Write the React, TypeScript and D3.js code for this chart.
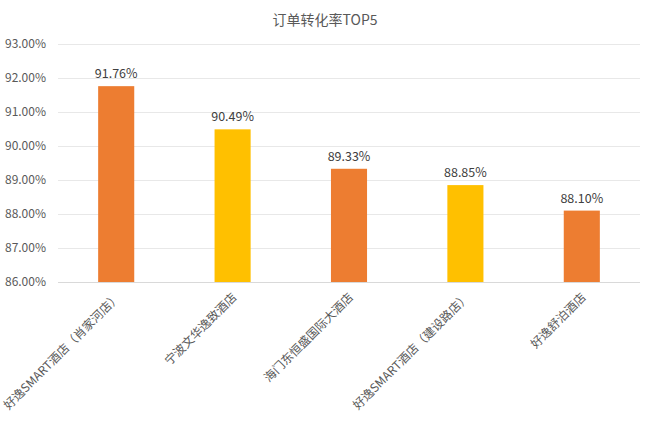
import { useEffect, useRef } from 'react';
import * as d3 from 'd3';

const categories = [
  '好逸SMART酒店（肖家河店）',
  '宁波文华逸致酒店',
  '海门东恒盛国际大酒店',
  '好逸SMART酒店（建设路店）',
  '好逸舒泊酒店',
];
const rates = [91.76, 90.49, 89.33, 88.85, 88.1];
const barColors = ['#ED7D31', '#FFC000', '#ED7D31', '#FFC000', '#ED7D31'];
const yTicks = [86, 87, 88, 89, 90, 91, 92, 93];
const title = '订单转化率TOP5';

const W = 650;
const H = 421;
const FONT = '"Noto Sans CJK SC", "Microsoft YaHei", sans-serif';

export default function App() {
  const ref = useRef<SVGSVGElement | null>(null);

  useEffect(() => {
    if (!ref.current) return;
    const margin = { top: 44, right: 10, bottom: 139, left: 58 };

    const svg = d3.select(ref.current);
    svg.selectAll('*').remove();

    const x = d3
      .scaleBand()
      .domain(categories)
      .range([margin.left, W - margin.right])
      .paddingInner(0.69)
      .paddingOuter(0.345);

    const y = d3.scaleLinear().domain([86, 93]).range([H - margin.bottom, margin.top]);

    svg
      .append('text')
      .attr('x', W / 2)
      .attr('y', 25)
      .attr('text-anchor', 'middle')
      .attr('font-size', 14)
      .attr('fill', '#595959')
      .attr('font-family', FONT)
      .text(title);

    // grid
    svg
      .append('g')
      .selectAll('line')
      .data(yTicks)
      .join('line')
      .attr('x1', margin.left)
      .attr('x2', W - margin.right)
      .attr('y1', (d) => Math.round(y(d)) + 0.5)
      .attr('y2', (d) => Math.round(y(d)) + 0.5)
      .attr('stroke', (d) => (d === 86 ? '#d9d9d9' : '#e8e8e8'))
      .attr('stroke-width', 1);

    svg
      .append('g')
      .selectAll('text')
      .data(yTicks)
      .join('text')
      .attr('x', 46)
      .attr('y', (d) => y(d))
      .attr('dy', '0.35em')
      .attr('text-anchor', 'end')
      .attr('font-size', 12)
      .attr('fill', '#595959')
      .attr('font-family', FONT)
      .text((d) => d.toFixed(2) + '%');

    const bars = categories.map((c, i) => ({ c, v: rates[i], color: barColors[i] }));

    svg
      .append('g')
      .selectAll('rect')
      .data(bars)
      .join('rect')
      .attr('x', (d) => x(d.c)!)
      .attr('width', x.bandwidth())
      .attr('y', (d) => y(d.v))
      .attr('height', (d) => y(86) - y(d.v))
      .attr('fill', (d) => d.color);

    svg
      .append('g')
      .selectAll('text')
      .data(bars)
      .join('text')
      .attr('x', (d) => x(d.c)! + x.bandwidth() / 2)
      .attr('y', (d) => y(d.v) - 8)
      .attr('text-anchor', 'middle')
      .attr('font-size', 12.5)
      .attr('fill', '#404040')
      .attr('font-family', FONT)
      .text((d) => d.v.toFixed(2) + '%');

    svg
      .append('g')
      .selectAll('text')
      .data(categories)
      .join('text')
      .attr('transform', (d) => `translate(${x(d)! + x.bandwidth() / 2 + 2},${H - margin.bottom + 13}) rotate(-45)`)
      .attr('text-anchor', 'end')
      .attr('dy', '0.35em')
      .attr('font-size', 12)
      .attr('fill', '#595959')
      .attr('font-family', FONT)
      .text((d) => d);
  }, []);

  return (
    <svg
      ref={ref}
      width={W}
      height={H}
      style={{ position: 'absolute', left: 0, top: 0, background: '#fff' }}
    />
  );
}
